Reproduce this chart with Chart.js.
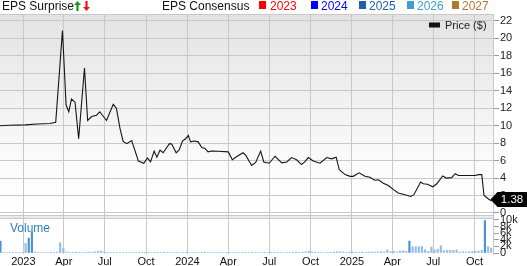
<!DOCTYPE html>
<html><head><meta charset="utf-8">
<script src="https://cdn.jsdelivr.net/npm/chart.js@4"></script>
<style>
html,body{margin:0;padding:0;background:#fff;}
#wrap{position:relative;width:527px;height:266px;overflow:hidden;font-family:"Liberation Sans",Arial,sans-serif;}
#c{position:absolute;left:0;top:0;}
.t{position:absolute;top:-1px;font-size:12px;line-height:14px;white-space:nowrap;}
.sq{position:absolute;top:1px;width:7px;height:8px;}
svg{position:absolute;top:1px;}
</style></head>
<body>
<div id="wrap">
<canvas id="c" width="527" height="266"></canvas>
<div class="t" style="left:2px;color:#111">EPS Surprise</div>
<svg style="left:74px" width="7" height="10" viewBox="0 0 7 10"><polygon points="3.5,0 7,4 4.6,4 4.6,10 2.4,10 2.4,4 0,4" fill="#1a9a1a"/></svg>
<svg style="left:83px" width="7" height="10" viewBox="0 0 7 10"><polygon points="3.5,10 7,6 4.6,6 4.6,0 2.4,0 2.4,6 0,6" fill="#e8161b"/></svg>
<div class="t" style="left:162px;color:#111">EPS Consensus</div>
<div class="sq" style="left:259px;background:#ff0000"></div><div class="t" style="left:270px;color:#ff0000">2023</div>
<div class="sq" style="left:311px;background:#0000ff"></div><div class="t" style="left:321px;color:#0000ff">2024</div>
<div class="sq" style="left:359px;background:#1f5eab"></div><div class="t" style="left:369px;color:#1f5eab">2025</div>
<div class="sq" style="left:407px;background:#3d9fd1"></div><div class="t" style="left:417px;color:#3d9fd1">2026</div>
<div class="sq" style="left:452px;background:#b07a2e"></div><div class="t" style="left:462px;color:#b07a2e">2027</div>
</div>
<script>
// ---- data ----
const priceDates = ['2022-11-10','2022-12-01','2023-01-05','2023-02-01','2023-03-01','2023-03-14','2023-03-29','2023-04-06','2023-04-12','2023-04-18','2023-04-26','2023-05-04','2023-05-17','2023-05-24','2023-06-02','2023-06-13','2023-06-20','2023-07-05','2023-07-20','2023-07-27','2023-08-04','2023-08-11','2023-08-19','2023-08-30','2023-09-14','2023-09-26','2023-10-04','2023-10-11','2023-10-19','2023-10-25','2023-11-01','2023-11-08','2023-11-22','2023-11-27','2023-12-07','2023-12-14','2023-12-21','2023-12-28','2024-01-03','2024-01-08','2024-01-16','2024-01-25','2024-02-02','2024-02-09','2024-02-16','2024-02-24','2024-03-10','2024-04-01','2024-04-10','2024-04-21','2024-05-04','2024-05-10','2024-05-23','2024-06-01','2024-06-12','2024-06-19','2024-07-01','2024-07-14','2024-07-29','2024-08-09','2024-08-20','2024-08-31','2024-09-11','2024-09-18','2024-09-26','2024-10-07','2024-10-22','2024-11-06','2024-11-17','2024-11-27','2024-12-04','2024-12-17','2024-12-28','2025-01-04','2025-01-17','2025-01-30','2025-02-10','2025-02-21','2025-03-01','2025-03-12','2025-03-23','2025-04-03','2025-04-14','2025-04-29','2025-05-12','2025-05-19','2025-06-03','2025-06-09','2025-06-18','2025-06-30','2025-07-09','2025-07-22','2025-07-30','2025-08-11','2025-08-19','2025-08-26','2025-09-14','2025-10-02','2025-10-10','2025-10-17','2025-10-22','2025-11-01','2025-11-08'];
const prices = [10.0,10.05,10.1,10.2,10.25,10.4,20.9,12.4,11.6,13.05,12.7,8.5,16.6,10.6,11.05,11.2,11.6,10.6,12.45,12.0,9.7,8.2,7.95,8.3,5.95,5.7,6.3,5.85,7.1,6.4,7.2,6.9,7.95,7.9,6.9,7.25,8.25,8.5,8.9,8.15,8.25,8.15,7.5,7.4,7.0,7.1,7.07,7.0,6.1,6.5,6.9,6.6,5.45,5.8,7.1,5.85,5.7,6.5,5.75,5.85,6.35,6.1,5.55,5.85,6.35,5.95,5.7,6.35,6.2,6.4,4.95,4.4,4.2,4.2,4.6,4.2,4.1,3.75,3.8,3.4,3.15,2.7,2.3,2.1,1.9,2.1,3.55,3.35,3.3,3.0,3.35,4.25,4.0,4.05,4.5,4.3,4.3,4.3,4.4,4.4,2.0,1.6,1.38];
const volumeStart = '2022-11-11'; // weekly bars
const volumes = [3.6,0.2,0.15,0.2,0.15,0.2,0.2,0.2,2.9,4.5,
 6.3,0.3,0.2,0.15,0.2,0.2,0.25,0.2,0.3,3.1,
 1.4,0.3,0.2,0.2,0.25,0.2,0.2,0.2,0.3,0.25,
 0.4,0.5,0.6,0.3,0.2,0.2,0.15,0.2,0.2,0.15,
 0.2,0.15,0.2,0.2,0.25,0.15,0.2,0.2,0.15,0.2,
 0.2,0.15,0.2,0.2,0.15,0.2,0.2,0.15,0.2,0.2,
 0.15,0.2,0.2,0.15,0.2,0.3,0.2,0.15,0.2,0.2,
 0.15,0.2,0.2,0.15,0.2,0.2,0.15,0.2,0.2,0.15,
 0.2,0.2,0.15,0.2,0.2,0.15,0.2,0.25,0.2,0.2,
 0.15,0.2,0.2,0.2,0.3,0.2,0.3,0.4,0.5,0.3,
 0.2,0.2,0.2,0.15,0.2,0.2,0.3,0.4,0.4,0.3,
 0.2,0.3,0.3,0.2,0.2,0.3,0.2,0.3,0.3,0.3,
 0.3,0.4,0.3,0.9,0.4,0.5,0.3,0.6,0.7,0.5,
 3.6,1.9,1.9,1.9,2.0,1.0,0.5,1.8,0.9,1.1,
 2.2,0.7,0.8,0.8,0.8,0.9,0.3,0.4,0.3,0.4,
 0.5,0.5,0.6,0.8,9.8,1.9,1.5]; // thousands
const xTickDates = ['2023-01-01','2023-04-01','2023-07-01','2023-10-01','2024-01-01','2024-04-01','2024-07-01','2024-10-01','2025-01-01','2025-04-01','2025-07-01','2025-10-01'];
const xTickLabels = ['2023','Apr','Jul','Oct','2024','Apr','Jul','Oct','2025','Apr','Jul','Oct'];
const priceTicks = [0,2,4,6,8,10,12,14,16,18,20,22];
const volumeTicks = [0,2,4,6,8,10];
const volumeTickLabels = ['0','2k','4k','6k','8k','10k'];
const lastPrice = prices[prices.length-1];

// ---- helpers ----
const BASE = Date.UTC(2023,0,1);
function dayNum(s){const p=s.split('-').map(Number);return (Date.UTC(p[0],p[1]-1,p[2])-BASE)/86400000;}
const v0 = dayNum(volumeStart);
const FONT = '"Liberation Sans", Arial, sans-serif';
function noPad(s){s.paddingLeft=0;s.paddingRight=0;s.paddingTop=0;s.paddingBottom=0;}

const bgPlugin = {
  id:'bg',
  beforeDraw(chart){
    const ctx=chart.ctx, ca=chart.chartArea, ys=chart.scales.y;
    ctx.save();
    const g=ctx.createLinearGradient(0,ys.top,0,ys.bottom);
    g.addColorStop(0,'#e3e3e3'); g.addColorStop(0.75,'#fbfbfb'); g.addColorStop(1,'#ffffff');
    ctx.fillStyle=g; ctx.fillRect(ca.left,ys.top,ca.right-ca.left,ys.bottom-ys.top);
    ctx.fillStyle='#ebebeb'; ctx.fillRect(ca.left,ys.bottom,ca.right-ca.left,3);
    ctx.strokeStyle='#c8c8c8'; ctx.lineWidth=1;
    ctx.beginPath();
    ctx.moveTo(ca.left,ys.bottom+0.5); ctx.lineTo(ca.right,ys.bottom+0.5);
    ctx.moveTo(ca.left,ys.bottom+3.5); ctx.lineTo(ca.right,ys.bottom+3.5);
    ctx.moveTo(ca.left,ca.top+0.5); ctx.lineTo(ca.right,ca.top+0.5);
    ctx.stroke();
    ctx.restore();
  },
  afterDraw(chart){
    const ctx=chart.ctx, ys=chart.scales.y;
    ctx.save();
    ctx.fillStyle='#111'; ctx.fillRect(429,ys.top+8.5,11,5);
    ctx.font='11px '+FONT; ctx.textBaseline='middle'; ctx.textAlign='left';
    ctx.fillStyle='#222'; ctx.fillText('Price ($)',445,ys.top+11.5);
    ctx.font='12px '+FONT; ctx.fillStyle='#2f80c3';
    ctx.fillText('Volume',10,229);
    const py=ys.getPixelForValue(lastPrice)-1.5;
    ctx.fillStyle='#000';
    ctx.beginPath();
    ctx.moveTo(490.5,py); ctx.lineTo(497.5,py-7.5); ctx.lineTo(527,py-7.5); ctx.lineTo(527,py+7.5); ctx.lineTo(497.5,py+7.5); ctx.closePath();
    ctx.fill();
    ctx.fillStyle='#fff'; ctx.font='11.5px '+FONT; ctx.textAlign='center';
    ctx.fillText(lastPrice.toFixed(2),512,py+0.5);
    ctx.restore();
  }
};

new Chart(document.getElementById('c'),{
  data:{
    datasets:[
      {type:'line', data:priceDates.map((d,i)=>({x:dayNum(d),y:prices[i]})), yAxisID:'y', xAxisID:'x',
       borderColor:'#151515', borderWidth:1.1, pointRadius:0, tension:0, fill:false, order:1},
      {type:'bar', data:volumes.map((v,i)=>({x:v0+7*i,y:v})), yAxisID:'yv', xAxisID:'x',
       backgroundColor:(c)=> (c.raw && c.raw.y>=3.5) ? '#4b92d6' : '#93bde6', barThickness:1.5, grouped:false, order:2}
    ]
  },
  options:{
    responsive:false, animation:false, devicePixelRatio:1,
    layout:{padding:{top:14,left:0,right:0,bottom:0}},
    plugins:{legend:{display:false},tooltip:{enabled:false}},
    scales:{
      x:{type:'linear', offset:false, min:dayNum('2022-11-10'), max:dayNum('2025-11-11'), position:'bottom',
        grid:{color:'#c8c8c8', drawTicks:false, offset:false}, border:{display:false},
        afterBuildTicks:(s)=>{s.ticks=xTickDates.map(d=>({value:dayNum(d)}));},
        ticks:{autoSkip:false, maxRotation:0, padding:1, color:'#111', font:{family:FONT,size:11},
          callback:(v)=>{const i=xTickDates.findIndex(d=>dayNum(d)===v);return i>=0?xTickLabels[i]:'';}},
        afterFit:(s)=>{s.height=12;noPad(s);}
      },
      y:{type:'linear', position:'right', stack:'main', stackWeight:201, min:-0.23, max:22.8,
        grid:{color:'#c8c8c8', tickLength:6, tickColor:'#9a9a9a'}, border:{color:'#c8c8c8'},
        afterBuildTicks:(s)=>{s.ticks=priceTicks.map(v=>({value:v}));},
        ticks:{autoSkip:false, padding:1, color:'#222', font:{family:FONT,size:11}},
        afterFit:(s)=>{s.width=34;noPad(s);}
      },
      yv:{type:'linear', position:'right', stack:'main', stackWeight:39, min:-0.3, max:11.5,
        grid:{drawOnChartArea:false, tickLength:6, tickColor:'#9a9a9a'}, border:{color:'#c8c8c8'},
        afterBuildTicks:(s)=>{s.ticks=volumeTicks.map(v=>({value:v}));},
        ticks:{autoSkip:false, padding:1, color:'#222', font:{family:FONT,size:11},
          callback:(v)=>{const i=volumeTicks.indexOf(v);return i>=0?volumeTickLabels[i]:'';}},
        afterFit:(s)=>{s.width=34;noPad(s);}
      }
    }
  },
  plugins:[bgPlugin]
});
</script>
</body></html>
